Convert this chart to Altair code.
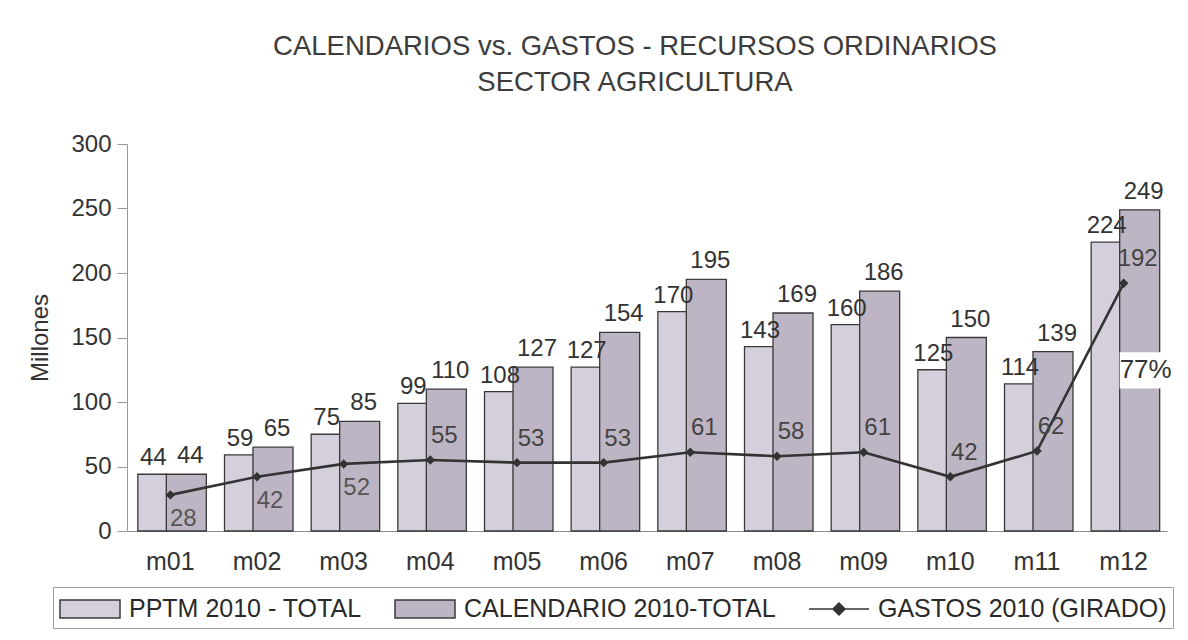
import altair as alt
import pandas as pd

# ---- data ----
months = ["m01", "m02", "m03", "m04", "m05", "m06", "m07", "m08", "m09", "m10", "m11", "m12"]
pptm = [44, 59, 75, 99, 108, 127, 170, 143, 160, 125, 114, 224]
calendario = [44, 65, 85, 110, 127, 154, 195, 169, 186, 150, 139, 249]
gastos = [28, 42, 52, 55, 53, 53, 61, 58, 61, 42, 62, 192]

series_names = ["PPTM 2010 - TOTAL", "CALENDARIO 2010-TOTAL", "GASTOS 2010 (GIRADO)"]
series_colors = ["#d4cfda", "#bdb5c3", "#333333"]
outline_colors = ["#3a3a3a", "#3a3a3a", "#333333"]
y_ticks = [0, 50, 100, 150, 200, 250, 300]

df = pd.DataFrame({
    "mes": months,
    "pptm": pptm,
    "cal": calendario,
    "gastos": gastos,
    "idx": list(range(len(months))),
})

FONT = "Liberation Sans"
RECT_PATH = "M-1,-0.6H3V0.6H-1Z"
LINE_PATH = "M-1,0H3M1,-0.4L1.4,0L1,0.4L0.6,0Z"

xenc = alt.X(
    "mes:N",
    scale=alt.Scale(domain=months, paddingInner=0, paddingOuter=0),
    axis=alt.Axis(title=None, labelAngle=0, labelFontSize=25, labelFont=FONT,
                  labelColor="#333", ticks=False, labelPadding=18,
                  domainColor="#8a8a8a", domainWidth=1.2),
)
yscale = alt.Scale(domain=[0, 300], nice=False)
yaxis = alt.Axis(title="Millones", values=y_ticks, labelFontSize=24, labelFont=FONT,
                 labelColor="#333", titleFontSize=24, titleFont=FONT,
                 titleFontWeight="normal", titleColor="#333", grid=False,
                 tickSize=10, tickColor="#999", domainColor="#999",
                 labelPadding=6, titlePadding=18)
cscale = alt.Scale(domain=series_names, range=series_colors)
shape_scale = alt.Scale(domain=series_names, range=[RECT_PATH, RECT_PATH, LINE_PATH])
stroke_scale = alt.Scale(domain=series_names, range=outline_colors)

legend_def = alt.Legend(
    title=None, orient="none", legendX=-74, legendY=443, direction="horizontal",
    labelFontSize=25, labelFont=FONT, labelColor="#2a2a2a", labelLimit=400,
    symbolSize=900, symbolStrokeWidth=1.5,
    symbolOpacity=1, labelOffset=38, columnPadding=30, padding=6,
    strokeColor="#9a9a9a", fillColor="white",
)

color_enc = alt.Color("serie:N", scale=cscale, legend=legend_def)

base = alt.Chart(df)

bars_p = base.transform_calculate(serie=f"'{series_names[0]}'").mark_bar(
    width=29, xOffset=-18, stroke="#3a3a3a", strokeWidth=1.3
).encode(
    x=xenc,
    y=alt.Y("pptm:Q", scale=yscale, axis=yaxis),
    color=color_enc,
)

bars_c = base.transform_calculate(serie=f"'{series_names[1]}'").mark_bar(
    width=40, xOffset=16, stroke="#3a3a3a", strokeWidth=1.3
).encode(
    x=xenc,
    y=alt.Y("cal:Q", scale=yscale, axis=yaxis),
    color=color_enc,
)

lbl_p = base.mark_text(dx=-17, dy=-4, baseline="bottom", fontSize=24, font=FONT,
                       color="#333").encode(
    x=xenc, y=alt.Y("pptm:Q", scale=yscale, axis=yaxis), text="pptm:Q")

lbl_c = base.mark_text(dx=20, dy=-6, baseline="bottom", fontSize=24, font=FONT,
                       color="#333").encode(
    x=xenc, y=alt.Y("cal:Q", scale=yscale, axis=yaxis), text="cal:Q")

line = base.transform_calculate(serie=f"'{series_names[2]}'").mark_line(
    strokeWidth=2.6, color="#333",
    point=alt.OverlayMarkDef(shape="diamond", filled=True, size=90, color="#333"),
).encode(
    x=xenc,
    y=alt.Y("gastos:Q", scale=yscale, axis=yaxis),
)

lbl_g_below = base.transform_filter("datum.idx < 3").mark_text(
    dx=13, dy=24, fontSize=24, font=FONT, color="#555"
).encode(x=xenc, y=alt.Y("gastos:Q", scale=yscale, axis=yaxis), text="gastos:Q")

lbl_g_above = base.transform_filter("datum.idx >= 3").mark_text(
    dx=14, dy=-24, fontSize=24, font=FONT, color="#444"
).encode(x=xenc, y=alt.Y("gastos:Q", scale=yscale, axis=yaxis), text="gastos:Q")

pct_base = base.transform_filter("datum.idx == 11").transform_calculate(
    pct="round(datum.gastos / datum.cal * 100) + '%'", ymid="datum.cal / 2"
)
pct_box = pct_base.mark_point(
    shape="M-1,-0.7H1V0.7H-1Z", filled=True, fill="white", opacity=1, size=2704,
    xOffset=22
).encode(x=xenc, y=alt.Y("ymid:Q", scale=yscale, axis=yaxis))
pct_txt = pct_base.mark_text(dx=22, fontSize=26, font=FONT, color="#333").encode(
    x=xenc, y=alt.Y("ymid:Q", scale=yscale, axis=yaxis), text="pct:N")

legend_layer = base.transform_filter("false").transform_calculate(
    serie=f"'{series_names[0]}'"
).mark_point(filled=True, size=900, strokeWidth=1.5).encode(
    x=xenc,
    y=alt.Y("pptm:Q", scale=yscale, axis=yaxis),
    color=color_enc,
    shape=alt.Shape("serie:N", scale=shape_scale, legend=legend_def),
    stroke=alt.Stroke("serie:N", scale=stroke_scale, legend=legend_def),
)

chart = alt.layer(
    legend_layer, bars_p, bars_c, lbl_p, lbl_c, line, lbl_g_below, lbl_g_above,
    pct_box, pct_txt
).properties(
    width=1040,
    height=387,
    padding={"left": 20, "top": 24, "right": 5, "bottom": 0},
    background="white",
    title=alt.TitleParams(
        ["CALENDARIOS vs. GASTOS - RECURSOS ORDINARIOS", "SECTOR AGRICULTURA"],
        fontSize=27.5, font=FONT, fontWeight="normal", color="#3c3c3c",
        lineHeight=36, offset=36, anchor="middle", dx=-12,
    ),
).configure_view(stroke=None)

chart.save("out.html", embed_options={"renderer": "svg", "actions": False})
